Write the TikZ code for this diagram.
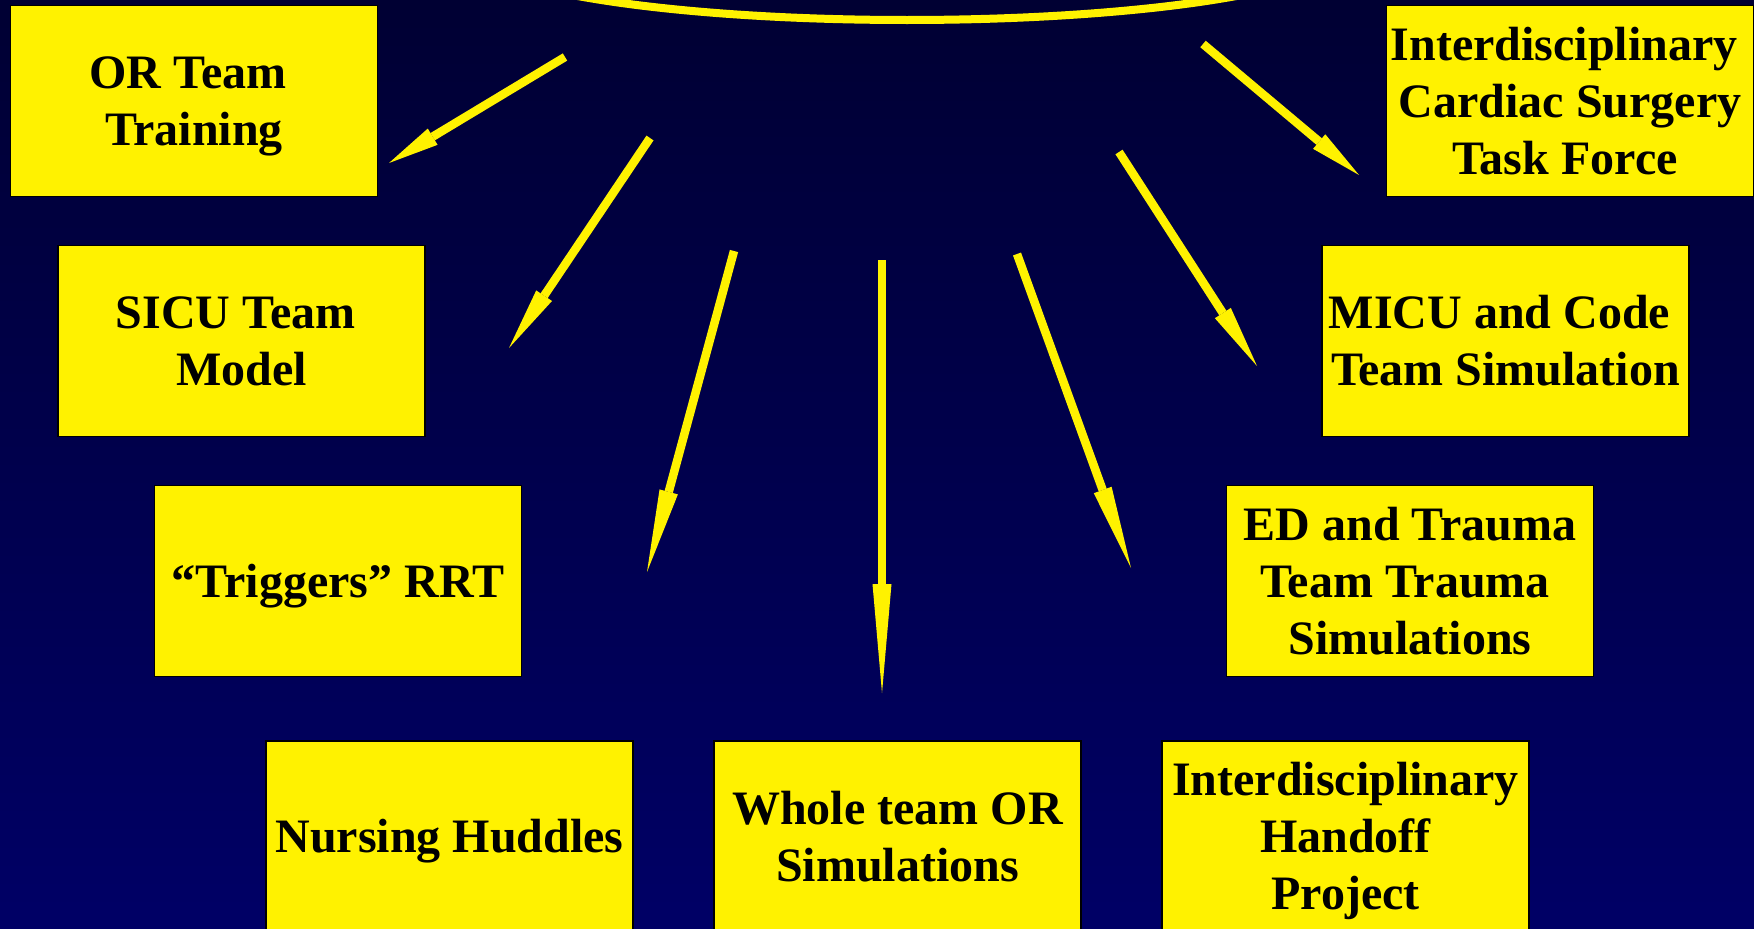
\documentclass[tikz,border=0pt]{standalone}
\usepackage{fontspec}
\setmainfont{Liberation Serif}
\usetikzlibrary{arrows.meta}
\definecolor{navytop}{RGB}{0,0,51}
\definecolor{navybot}{RGB}{0,0,102}
\newcommand{\bxfirst}[1]{\rule{0pt}{32pt}\smash{#1}}
\newcommand{\bxline}[1]{\smash{#1}}
\tikzset{
  box/.style={draw=black, line width=1.5pt, fill=yellow, rectangle,
    minimum width=367pt, minimum height=191pt, inner sep=0pt, align=center,
    font=\bfseries\fontsize{48}{57}\selectfont, text=black},
  ray/.style={draw=yellow, line width=8.5pt,
    -{Triangle[length=#1, width=19pt, line width=0pt]}},
  arcline/.style={draw=yellow, line width=8pt}
}
\begin{document}
\begin{tikzpicture}[x=1pt,y=-1pt]
\useasboundingbox (0,0) rectangle (1754,929);
\path[top color=navytop, bottom color=navybot] (0,0) rectangle (1754,929);
\coordinate (arcc) at (907,-50);
\draw[arcline] (arcc) ellipse [x radius=437pt, y radius=70pt];

\node[box] (or) at (194,101) {\bxfirst{OR Team}\kern12pt\\\bxline{Training}};
\node[box] (sicu) at (241.5,341) {\bxfirst{SICU Team}\kern12pt\\\bxline{Model}};
\node[box] (trig) at (338,581) {\bxfirst{“Triggers” RRT}};
\node[box] (card) at (1570,101) {\bxfirst{Interdisciplinary}\kern12pt\\\bxline{Cardiac Surgery}\\\bxline{Task Force}\kern10pt};
\node[box] (micu) at (1505.5,341) {\bxfirst{MICU and Code}\kern12pt\\\bxline{Team Simulation}};
\node[box] (ed) at (1410,581) {\bxfirst{ED and Trauma}\\\bxline{Team Trauma}\kern10pt\\\bxline{Simulations}};
\node[box] (nurse) at (449.5,836.5) {\bxfirst{Nursing Huddles}};
\node[box] (whole) at (897.5,836.5) {\bxfirst{Whole team OR}\\\bxline{Simulations}};
\node[box] (hand) at (1345.5,836.5) {\bxfirst{Interdisciplinary}\\\bxline{Handoff}\\\bxline{Project}};

\coordinate (t1) at (565,57);   \coordinate (h1) at (389,163);
\coordinate (t2) at (650,138);  \coordinate (h2) at (509,348);
\coordinate (t3) at (734,251);  \coordinate (h3) at (647,572);
\coordinate (t4) at (882,260);  \coordinate (h4) at (882,693);
\coordinate (t5) at (1017,254); \coordinate (h5) at (1131,568);
\coordinate (t6) at (1119,152); \coordinate (h6) at (1257,366);
\coordinate (t7) at (1203,44);  \coordinate (h7) at (1359,175);

\draw[ray=51pt] (t1) -- (h1);
\draw[ray=63pt] (t2) -- (h2);
\draw[ray=83pt] (t3) -- (h3);
\draw[ray=109pt] (t4) -- (h4);
\draw[ray=83pt] (t5) -- (h5);
\draw[ray=63pt] (t6) -- (h6);
\draw[ray=52pt] (t7) -- (h7);
\end{tikzpicture}
\end{document}
